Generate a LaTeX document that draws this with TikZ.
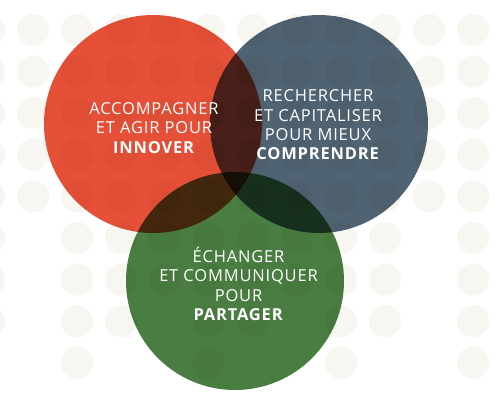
\documentclass[tikz,border=0pt]{standalone}
\usepackage{fontspec}
\setmainfont[LetterSpace=5]{Open Sans}
\definecolor{dotcream}{HTML}{F8F6F1}
\definecolor{innovred}{HTML}{E65038}
\definecolor{slateblue}{HTML}{506373}
\definecolor{leafgreen}{HTML}{4A7D41}
\begin{document}
\begin{tikzpicture}[x=1pt,y=-1pt,font=\fontsize{16.5}{19.3}\selectfont,
  disc/.style={circle,minimum size=218pt,inner sep=0pt},
  venntext/.style={text=white,align=center,inner sep=0pt}]
  \useasboundingbox (0,0) rectangle (495,400);
  \foreach \x/\rows in {-11/{0,...,7},33/{0,...,4},77/{0,...,8},121/{0,...,7},
      165/{0,...,6},209/{0,...,8},253/{0,...,7},297/{0,...,6},341/{0,...,8},
      385/{0,...,7},429/{0,...,4},473/{0,...,8}} {
    \foreach \r in \rows {
      \fill[dotcream] (\x,30+41.6*\r) circle[radius=16];
    }
  }
  \begin{scope}[blend mode=multiply]
    \node[disc,fill=innovred] (innover) at (153,124) {};
    \node[disc,fill=slateblue] (comprendre) at (319,124) {};
    \node[disc,fill=leafgreen] (partager) at (235,281) {};
  \end{scope}
  \node[venntext] (innoverlbl) at (154,128) {ACCOMPAGNER\\ET AGIR POUR\\\textbf{INNOVER}};
  \node[venntext] (comprendrelbl) at (318,125) {RECHERCHER\\ET CAPITALISER\\POUR MIEUX\\\textbf{COMPRENDRE}};
  \node[venntext] (partagerlbl) at (238.5,284) {ÉCHANGER\\ET COMMUNIQUER\\POUR\\\textbf{PARTAGER}};
\end{tikzpicture}
\end{document}
